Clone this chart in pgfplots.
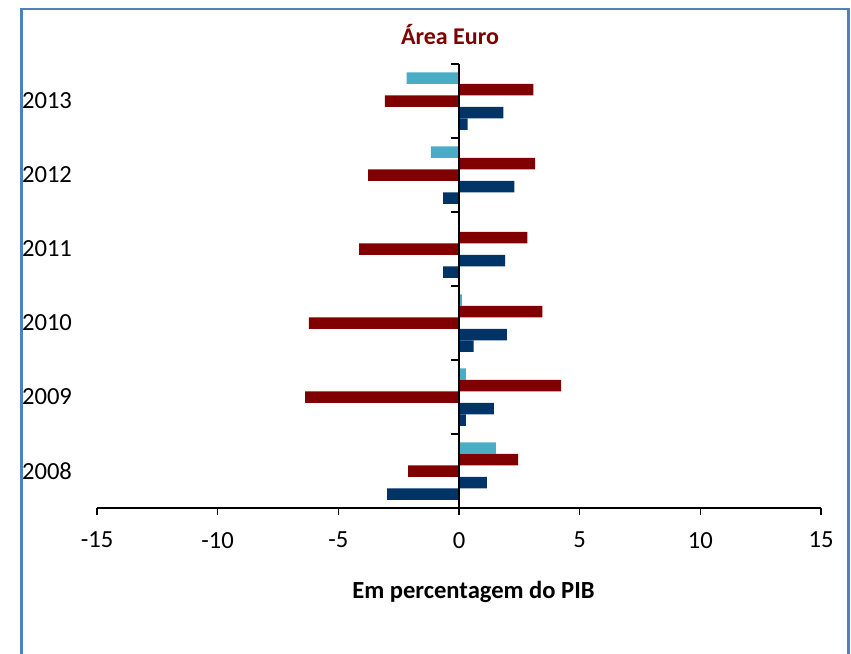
\documentclass[border=0pt]{standalone}
\usepackage{pgfplots}
\pgfplotsset{compat=1.18}
\usepackage{fontspec}
\setmainfont{Carlito}
\definecolor{navy}{RGB}{0,51,102}
\definecolor{dred}{RGB}{128,0,0}
\definecolor{lblue}{RGB}{75,172,198}
\definecolor{framec}{RGB}{79,129,189}
\begin{document}
\begin{tikzpicture}
\useasboundingbox (0,0) rectangle (425.5pt,-326.5pt);
\draw[framec, line width=1.2pt] (10.75pt,-330pt) -- (10.75pt,-4.5pt) -- (424.25pt,-4.5pt) -- (424.25pt,-330pt);
\begin{axis}[
  at={(48.5pt,-254pt)}, anchor=south west,
  scale only axis, width=362pt, height=222pt,
  xbar, bar width=5.75pt,
  xmin=-15, xmax=15, ymin=0.5, ymax=6.5,
  xtick={-15,-10,-5,0,5,10,15},
  xticklabels={-15,-10,-5,0,5,10,15},
  ytick={1,2,3,4,5,6}, yticklabels={2008,2009,2010,2011,2012,2013},
  axis x line=bottom, axis y line=left,
  axis line style={-, line width=0.8pt},
  y axis line style={draw=none},
  ytick style={draw=none},
  xtick style={black, line width=0.8pt},
  tick align=outside, major tick length=3.5pt,
  ticklabel style={font=\fontsize{12.3}{14}\selectfont},
  xticklabel style={yshift=-5pt},
  yticklabel style={xshift=-5.5pt},
  clip=false,
]
\addplot[fill=navy, draw=none, bar shift=-11.5pt] coordinates {(-2.98,1) (0.28,2) (0.61,3) (-0.66,4) (-0.66,5) (0.36,6)};
\addplot[fill=navy, draw=none, bar shift=-5.75pt] coordinates {(1.15,1) (1.44,2) (1.98,3) (1.91,4) (2.29,5) (1.84,6)};
\addplot[fill=dred, draw=none, bar shift=0pt] coordinates {(-2.11,1) (-6.38,2) (-6.22,3) (-4.14,4) (-3.77,5) (-3.07,6)};
\addplot[fill=dred, draw=none, bar shift=5.75pt] coordinates {(2.45,1) (4.23,2) (3.45,3) (2.83,4) (3.15,5) (3.08,6)};
\addplot[fill=lblue, draw=none, bar shift=11.5pt] coordinates {(1.53,1) (0.28,2) (0.12,3) (0,4) (-1.17,5) (-2.17,6)};
\draw[black, line width=0.8pt] (axis cs:0,0.5) -- (axis cs:0,6.5);
\pgfplotsinvokeforeach{0.5,1.5,2.5,3.5,4.5,5.5,6.5}{\draw[black, line width=0.8pt] (axis cs:0,#1) -- ([xshift=-4pt]axis cs:0,#1);}
\end{axis}
\node[font=\bfseries\fontsize{12}{14}\selectfont, text=dred] at (225pt,-17.5pt) {Área Euro};
\node[font=\bfseries\fontsize{12.3}{14}\selectfont] at (236.75pt,-296pt) {Em percentagem do PIB};
\end{tikzpicture}
\end{document}
